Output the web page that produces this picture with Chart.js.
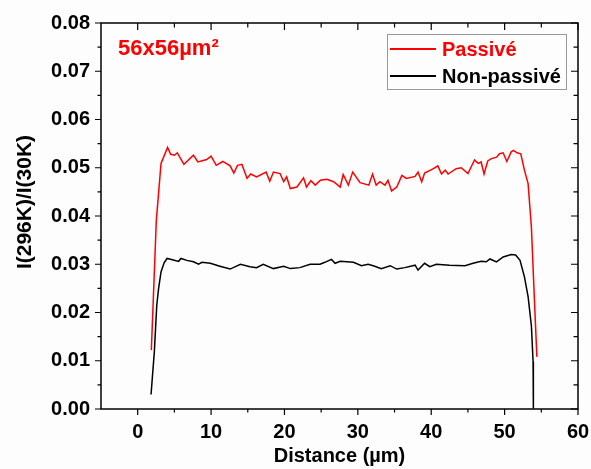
<!DOCTYPE html>
<html>
<head>
<meta charset="utf-8">
<script src="https://cdn.jsdelivr.net/npm/chart.js@4/dist/chart.umd.min.js"></script>
<style>
  body { margin: 0; background: #fdfdfd; }
  #wrap { width: 591px; height: 469px; }
</style>
</head>
<body>
<div id="wrap"><canvas id="profil"></canvas></div>
<script>
// distance (µm) and I(296K)/I(30K) ratio
const distRed = [
  1.86, 2.54, 3.18, 4.07, 4.5, 5.0, 5.4, 6.3, 7.6,
  8.2, 9.4, 10.0, 10.7, 11.6, 12.6, 13.1, 13.6, 14.2, 14.9,
  15.4, 16.2, 17.5, 18.0, 18.5, 19.4, 19.9, 20.3, 20.8, 21.7,
  22.6, 23.0, 23.6, 24.2, 24.9, 25.8, 26.7, 27.6, 28.0, 28.7,
  29.3, 30.3, 31.5, 32.0, 32.5, 33.0, 33.7, 34.1, 34.6, 35.3,
  36.0, 36.6, 37.8, 38.2, 38.7, 39.1, 40.3, 40.9, 41.4, 41.9,
  42.3, 43.4, 44.1, 45.0, 45.9, 46.4, 46.8, 47.2, 47.7, 48.2,
  48.9, 49.3, 49.8, 50.3, 50.9, 51.2, 51.7, 52.2, 52.7, 53.2,
  53.65, 54.1, 54.4
];
const passive = [
  0.0122, 0.0391, 0.0509, 0.0542, 0.0528, 0.0526, 0.0531, 0.0507, 0.0526,
  0.0512, 0.0517, 0.0524, 0.0505, 0.0513, 0.0504, 0.0489, 0.0505, 0.0507, 0.0478,
  0.0487, 0.0481, 0.0491, 0.0472, 0.0491, 0.0488, 0.0471, 0.0481, 0.0457, 0.0460,
  0.0479, 0.0460, 0.0473, 0.0464, 0.0474, 0.0476, 0.0471, 0.0460, 0.0486, 0.0464,
  0.0491, 0.0469, 0.0464, 0.0487, 0.0464, 0.0471, 0.0464, 0.0474, 0.0452, 0.0460,
  0.0484, 0.0478, 0.0482, 0.0491, 0.0471, 0.0489, 0.0498, 0.0504, 0.0487, 0.0495,
  0.0487, 0.0498, 0.0500, 0.0488, 0.0516, 0.0509, 0.0512, 0.0487, 0.0514, 0.0519,
  0.0522, 0.0529, 0.0531, 0.0513, 0.0533, 0.0536, 0.0531, 0.0529, 0.0495, 0.0467,
  0.0377, 0.0212, 0.0108
];

const distBlack = [
  1.82, 2.27, 2.6, 2.85, 3.18, 3.6, 4.0, 4.6, 5.57, 5.9,
  6.7, 7.6, 8.3, 8.75, 9.9, 11.2, 12.6, 14.0, 15.3, 16.2,
  17.1, 18.5, 19.9, 20.8, 22.1, 23.5, 24.85, 25.5, 26.4, 26.9,
  27.6, 29.4, 30.5, 31.4, 32.1, 33.2, 34.4, 35.3, 36.4, 37.8,
  38.2, 39.1, 39.8, 40.7, 42.5, 44.6, 45.7, 46.8, 47.5, 48.0,
  48.9, 49.8, 50.9, 51.5, 52.1, 52.7, 53.2, 53.65, 53.88, 53.92
];
const nonPassive = [
  0.0030, 0.0119, 0.0215, 0.0250, 0.0284, 0.0303, 0.0312, 0.0310, 0.0306, 0.0312,
  0.0308, 0.0305, 0.0300, 0.0304, 0.0302, 0.0296, 0.0290, 0.0300, 0.0295, 0.0293,
  0.0300, 0.0291, 0.0296, 0.0291, 0.0293, 0.0300, 0.0300, 0.0304, 0.0310, 0.0302,
  0.0306, 0.0304, 0.0297, 0.0300, 0.0297, 0.0291, 0.0297, 0.0290, 0.0293, 0.0298,
  0.0288, 0.0302, 0.0295, 0.0300, 0.0298, 0.0297, 0.0302, 0.0306, 0.0305, 0.0311,
  0.0305, 0.0315, 0.0320, 0.0319, 0.0308, 0.0274, 0.0233, 0.0172, 0.0098, 0.0001
];

const xTicks = [0, 10, 20, 30, 40, 50, 60];
const yTicks = [0, 0.01, 0.02, 0.03, 0.04, 0.05, 0.06, 0.07, 0.08];

const FONT = "'Liberation Sans', Arial, sans-serif";

const toPoints = (xs, ys) => xs.map((v, i) => ({ x: v, y: ys[i] }));

// cadre + graduations façon Origin, légende, titre Y et étiquette
const decor = {
  id: 'decor',
  beforeDraw(chart) {
    const { ctx } = chart;
    ctx.save();
    ctx.fillStyle = '#fdfdfd';
    ctx.fillRect(0, 0, chart.width, chart.height);
    ctx.restore();
  },
  afterDatasetsDraw(chart) {
    const { ctx, chartArea: a, scales: { x, y } } = chart;
    ctx.save();
    ctx.strokeStyle = '#000';
    ctx.lineWidth = 1.5;
    ctx.strokeRect(a.left, a.top, a.right - a.left, a.bottom - a.top);

    ctx.lineWidth = 1.2;
    ctx.beginPath();
    for (let v = 0; v <= 60; v += 5) {
      const px = x.getPixelForValue(v);
      const len = v % 10 === 0 ? 6 : 3.5;
      ctx.moveTo(px, a.bottom); ctx.lineTo(px, a.bottom + len);
      ctx.moveTo(px, a.top); ctx.lineTo(px, a.top + len + 1);
    }
    for (let i = 0; i <= 16; i++) {
      const py = y.getPixelForValue(i * 0.005);
      const len = i % 2 === 0 ? 6 : 3.5;
      ctx.moveTo(a.left - len, py); ctx.lineTo(a.left, py);
      ctx.moveTo(a.right, py); ctx.lineTo(a.right - len - 1, py);
    }
    ctx.stroke();

    // titre axe Y
    ctx.fillStyle = '#000';
    ctx.font = 'bold 21px ' + FONT;
    ctx.textAlign = 'center';
    ctx.textBaseline = 'middle';
    ctx.save();
    ctx.translate(25, 202);
    ctx.rotate(-Math.PI / 2);
    ctx.fillText('I(296K)/I(30K)', 0, 0);
    ctx.restore();

    // étiquette
    ctx.fillStyle = '#ff0000';
    ctx.font = 'bold 22px ' + FONT;
    ctx.textAlign = 'left';
    ctx.fillText('56x56µm²', a.left + 17, a.top + 26);

    // légende
    const bx = a.right - 191, by = a.top + 11, bw = 179, bh = 55;
    ctx.strokeStyle = '#999';
    ctx.lineWidth = 1;
    ctx.strokeRect(bx + 0.5, by + 0.5, bw, bh);
    ctx.font = 'bold 20px ' + FONT;
    chart.data.datasets.forEach((ds, i) => {
      const ly = by + 15 + i * 27;
      ctx.strokeStyle = ds.borderColor;
      ctx.lineWidth = 1.8;
      ctx.beginPath();
      ctx.moveTo(bx + 3, ly); ctx.lineTo(bx + 49, ly);
      ctx.stroke();
      ctx.fillStyle = ds.borderColor;
      ctx.fillText(ds.label, bx + 55, ly + 1);
    });
    ctx.restore();
  }
};

new Chart(document.getElementById('profil'), {
  type: 'line',
  data: {
    datasets: [
      {
        label: 'Passivé',
        data: toPoints(distRed, passive),
        borderColor: '#ff0000',
        borderWidth: 1.5,
        pointRadius: 0,
        tension: 0
      },
      {
        label: 'Non-passivé',
        data: toPoints(distBlack, nonPassive),
        borderColor: '#000000',
        borderWidth: 1.5,
        pointRadius: 0,
        tension: 0
      }
    ]
  },
  options: {
    responsive: true,
    maintainAspectRatio: false,
    animation: false,
    layout: { padding: { top: 23, right: 13, left: 0, bottom: 0 } },
    plugins: {
      legend: { display: false },
      tooltip: { enabled: false }
    },
    scales: {
      x: {
        type: 'linear',
        min: -5,
        max: 60,
        afterBuildTicks: s => { s.ticks = xTicks.map(v => ({ value: v })); },
        afterFit: s => { s.height = 60; s.paddingLeft = 0; s.paddingRight = 0; },
        grid: { display: false, drawTicks: false },
        border: { display: false },
        ticks: {
          padding: 11,
          color: '#000',
          maxRotation: 0,
          font: { family: FONT, size: 20, weight: 'bold' }
        },
        title: {
          display: true,
          text: 'Distance (µm)',
          color: '#000',
          padding: { top: 0, bottom: 1 },
          font: { family: FONT, size: 20, weight: 'bold' }
        }
      },
      y: {
        min: 0,
        max: 0.08,
        afterBuildTicks: s => { s.ticks = yTicks.map(v => ({ value: v })); },
        afterFit: s => { s.width = 101; s.paddingTop = 0; s.paddingBottom = 0; },
        grid: { display: false, drawTicks: false },
        border: { display: false },
        ticks: {
          padding: 11,
          color: '#000',
          callback: v => v.toFixed(2),
          font: { family: FONT, size: 20, weight: 'bold' }
        }
      }
    }
  },
  plugins: [decor]
});
</script>
</body>
</html>
